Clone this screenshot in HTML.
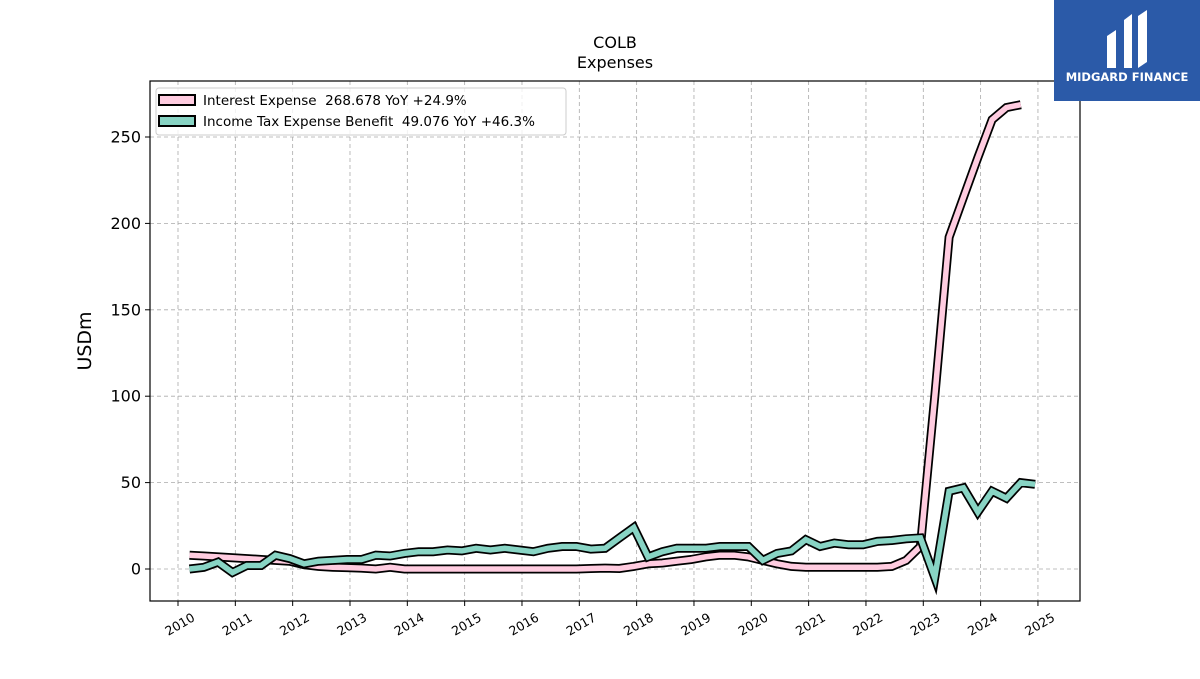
<!DOCTYPE html>
<html><head><meta charset="utf-8"><style>
body{margin:0;background:#fff;font-family:"DejaVu Sans","Liberation Sans",sans-serif;}
svg text{font-family:"DejaVu Sans","Liberation Sans",sans-serif;white-space:pre;}
</style></head><body>
<svg id="chart" width="1200" height="675" viewBox="0 0 1200 675" xmlns="http://www.w3.org/2000/svg">
<rect width="1200" height="675" fill="#fff"/>
<text x="615" y="48" text-anchor="middle" font-size="16">COLB</text>
<text x="615" y="68" text-anchor="middle" font-size="16">Expenses</text>
<g id="grid"></g>
<g id="series"></g>
<rect x="150" y="81" width="930" height="520" fill="none" stroke="#000" stroke-width="1.2"/>
<g id="axes"></g>
<text transform="translate(91,341) rotate(-90)" text-anchor="middle" font-size="19">USDm</text>
<g>
<rect x="156" y="88" width="410" height="47" rx="3" fill="#fff" fill-opacity="0.8" stroke="#ccc"/>
<g>
<rect x="159" y="95" width="36" height="10" fill="#ffcce0" stroke="#000" stroke-width="2"/>
<text x="203" y="105" font-size="13.5" xml:space="preserve">Interest Expense  268.678 YoY +24.9%</text></g>
<g>
<rect x="159" y="116" width="36" height="10" fill="#88d4c4" stroke="#000" stroke-width="2"/>
<text x="203" y="126" font-size="13.5" xml:space="preserve">Income Tax Expense Benefit  49.076 YoY +46.3%</text></g>
</g>
<g>
<rect x="1054" y="0" width="146" height="101" fill="#2b5aa8"/>
<path d="M1107 68 L1107 36 L1116 30 L1116 68 Z M1124 68 L1124 20 L1132 14 L1132 68 Z M1138 68 L1138 16 L1147 10 L1147 62 Z" fill="#fff"/>
<text x="1127" y="81" text-anchor="middle" font-size="11.5" font-weight="bold" fill="#fff">MIDGARD FINANCE</text>
</g>
</svg>
<script>
const yearTicks=[2010,2011,2012,2013,2014,2015,2016,2017,2018,2019,2020,2021,2022,2023,2024,2025];
const yTicks=[0,50,100,150,200,250];
const interestExpense=[8,7.5,7,6.5,6,5.5,5,4.5,2.5,1.5,1,0.8,0.5,0,1,0,0,0,0,0,0,0,0,0,0,0,0,0,0.3,0.5,0.3,1.5,3,3.5,4.5,5.5,7,8,8,7,5,3,1.5,1,1,1,1,1,1,1.5,5,13,100,192,215,238,260,267,268.7];
const taxExpenseBenefit=[0,1,4,-2,2,2,8,6,3,4.5,5,5.5,5.5,8,7.5,9,10,10,11,10.5,12,11,12,11,10,12,13,13,11.5,12,18,24,7,10,12,12,12,13,13,13,5,9,10.5,17,13,15,14,14,16,16.5,17.5,18,-5,45,47,33,45,41,50,49];
const ns="http://www.w3.org/2000/svg";
const X0=150,X1=1080;
function xs(t){return 178+(t-2010)*57.33;}
function ys(v){return 569-v*1.728;}
function mk(tag,attrs,parent){const e=document.createElementNS(ns,tag);for(const k in attrs)e.setAttribute(k,attrs[k]);parent.appendChild(e);return e;}
const grid=document.getElementById('grid'),axes=document.getElementById('axes'),series=document.getElementById('series');
yearTicks.forEach(y=>{const x=xs(y);
 const g=mk('line',{x1:x,x2:x,y1:81,y2:601,stroke:'#aaa','stroke-dasharray':'4,3','stroke-width':0.8},grid);
 
 
 mk('line',{x1:x,x2:x,y1:601,y2:606,stroke:'#000'},axes);
 const t=mk('text',{x:x+4,y:628,'text-anchor':'middle','font-size':12.5,transform:`rotate(-30 ${x+4} 628)`},axes);
 t.textContent=y;
 
 
});
yTicks.forEach(v=>{const y=ys(v);
 const g=mk('line',{x1:X0,x2:X1,y1:y,y2:y,stroke:'#aaa','stroke-dasharray':'4,3','stroke-width':0.8},grid);
 
 
 mk('line',{x1:145,x2:150,y1:y,y2:y,stroke:'#000'},axes);
 const t=mk('text',{x:141,y:y+5.5,'text-anchor':'end','font-size':16},axes);
 t.textContent=v;
 
 
});
function draw(data,color,name){
 const pts=data.map((v,i)=>xs(2010.2+i*0.25).toFixed(1)+','+ys(v).toFixed(1)).join(' ');
 const o=mk('polyline',{points:pts,fill:'none',stroke:'#000','stroke-width':9,'stroke-linejoin':'miter'},series);
 
 
 const l=mk('polyline',{points:pts,fill:'none',stroke:color,'stroke-width':5.5,'stroke-linejoin':'miter'},series);
 
 
}
draw(interestExpense,'#ffcce0','interest-expense');
draw(taxExpenseBenefit,'#88d4c4','income-tax-expense-benefit');
</script>
</body></html>
